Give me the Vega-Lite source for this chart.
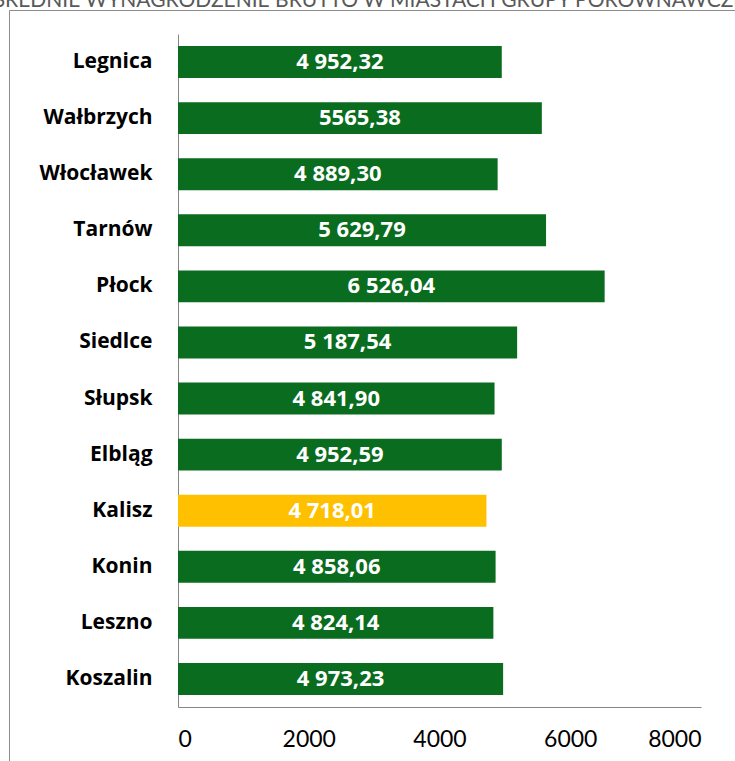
{
  "$schema": "https://vega.github.io/schema/vega-lite/v6.json",
  "width": 730,
  "height": 756,
  "autosize": {"type": "none"},
  "padding": {"left": 9, "top": 10, "right": 0, "bottom": 0},
  "background": "white",
  "title": {
    "text": "ŚREDNIE WYNAGRODZENIE BRUTTO W MIASTACH GRUPY PORÓWNAWCZEJ",
    "anchor": "middle",
    "frame": "group",
    "font": "Lato",
    "fontSize": 21,
    "fontWeight": "normal",
    "color": "#595959",
    "baseline": "alphabetic",
    "offset": -18
  },
  "config": {
    "view": {"stroke": "#8c8c8c", "strokeWidth": 1, "fill": "white"},
    "font": "Lato"
  },
  "data": {
    "values": [
      {"city": "Legnica", "value": 4952.32, "label": "4 952,32"},
      {"city": "Wałbrzych", "value": 5565.38, "label": "5565,38"},
      {"city": "Włocławek", "value": 4889.30, "label": "4 889,30"},
      {"city": "Tarnów", "value": 5629.79, "label": "5 629,79"},
      {"city": "Płock", "value": 6526.04, "label": "6 526,04"},
      {"city": "Siedlce", "value": 5187.54, "label": "5 187,54"},
      {"city": "Słupsk", "value": 4841.90, "label": "4 841,90"},
      {"city": "Elbląg", "value": 4952.59, "label": "4 952,59"},
      {"city": "Kalisz", "value": 4718.01, "label": "4 718,01"},
      {"city": "Konin", "value": 4858.06, "label": "4 858,06"},
      {"city": "Leszno", "value": 4824.14, "label": "4 824,14"},
      {"city": "Koszalin", "value": 4973.23, "label": "4 973,23"}
    ]
  },
  "transform": [{"calculate": "datum.value / 2", "as": "mid"}],
  "encoding": {
    "y": {
      "field": "city",
      "type": "nominal",
      "sort": null,
      "scale": {"range": [24, 697], "paddingInner": 0.43, "paddingOuter": 0.215},
      "axis": {
        "title": null,
        "orient": "left",
        "offset": -169,
        "ticks": false,
        "domainColor": "#868686",
        "domainWidth": 1,
        "labelFont": "Open Sans",
        "labelFontSize": 21,
        "labelFontWeight": "bold",
        "labelColor": "#000000",
        "labelPadding": 26
      }
    }
  },
  "layer": [
    {
      "mark": {"type": "bar"},
      "encoding": {
        "x": {
          "field": "value",
          "type": "quantitative",
          "scale": {"domain": [0, 8000], "range": [169, 692], "nice": false},
          "axis": {
            "title": null,
            "orient": "bottom",
            "offset": -59,
            "values": [0, 2000, 4000, 6000, 8000],
            "format": "d",
            "grid": false,
            "ticks": false,
            "domainColor": "#868686",
            "domainWidth": 1,
            "labelFont": "Lato",
            "labelFontSize": 23,
            "labelColor": "#000000",
            "labelPadding": 21
          }
        },
        "color": {
          "condition": {"test": "datum.city === 'Kalisz'", "value": "#FFC000"},
          "value": "#0A6C1E"
        }
      }
    },
    {
      "mark": {"type": "text", "color": "white", "font": "Open Sans", "fontSize": 22, "fontWeight": "bold", "baseline": "middle", "align": "center"},
      "encoding": {
        "x": {"field": "mid", "type": "quantitative"},
        "text": {"field": "label"}
      }
    }
  ]
}
